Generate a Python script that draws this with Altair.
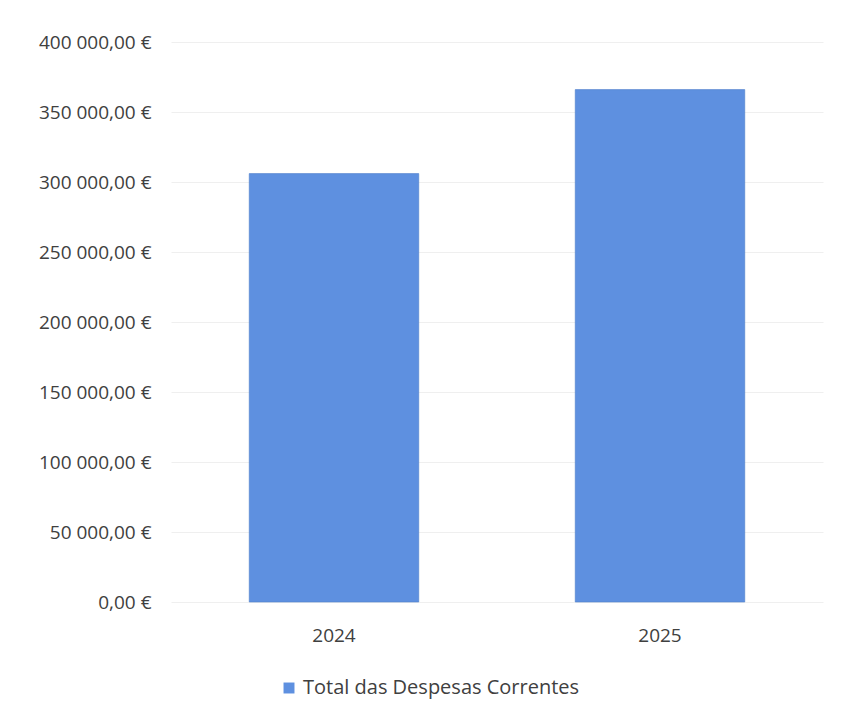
import altair as alt
import pandas as pd

years = ["2024", "2025"]
values = [306000, 366000]
series = "Total das Despesas Correntes"

df = pd.DataFrame({"Ano": years, "Valor": values, "Serie": [series] * 2})

label_expr = "datum.value == 0 ? '0,00 €' : format(datum.value / 1000, 'd') + ' 000,00 €'"

bars = alt.Chart(df).mark_bar(
    stroke="#4f7fc9", strokeWidth=1, strokeOpacity=0.6
).encode(
    x=alt.X("Ano:N", title=None, sort=years,
            scale=alt.Scale(paddingInner=0.48, paddingOuter=0.24),
            axis=alt.Axis(labelAngle=0, labelFontSize=19, labelColor="#404040",
                          labelFont="Open Sans", ticks=False, domain=False,
                          labelPadding=24, grid=False)),
    y=alt.Y("Valor:Q", title=None,
            scale=alt.Scale(domain=[0, 400000]),
            axis=alt.Axis(values=list(range(0, 400001, 50000)), labelExpr=label_expr,
                          labelFontSize=19, labelColor="#404040", labelFont="Open Sans",
                          ticks=False, domain=False, labelPadding=20,
                          gridColor="#efefef", gridWidth=1)),
    color=alt.Color("Serie:N", scale=alt.Scale(range=["#5e90e0"]),
                    legend=alt.Legend(title=None, orient="none", legendX=108, legendY=636,
                                      symbolType="square", symbolSize=120,
                                      labelFontSize=20, labelColor="#404040", labelLimit=0,
                                      labelFont="Open Sans", symbolStrokeWidth=0))
)

chart = bars.properties(
    width=652, height=560,
    background="white",
    autosize=alt.AutoSizeParams(type="none"),
    padding={"left": 163, "top": 34, "right": 10, "bottom": 100},
).configure_view(stroke=None)

chart.save("out.html", embed_options={"renderer": "svg", "actions": False})
